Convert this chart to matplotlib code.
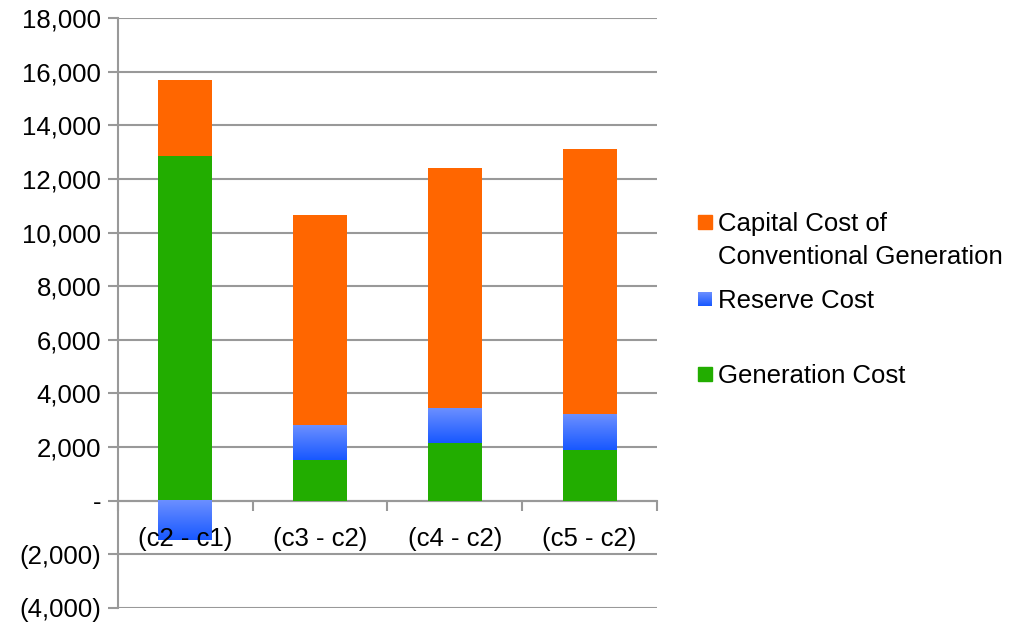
import numpy as np
import matplotlib
matplotlib.use('Agg')
import matplotlib.pyplot as plt
from matplotlib.patches import Rectangle
from matplotlib.ticker import FuncFormatter


categories = ['(c2 - c1)', '(c3 - c2)', '(c4 - c2)', '(c5 - c2)']
generation_cost = [12850, 1500, 2170, 1900]
reserve_cost = [-1480, 1270, 1280, 1340]
capital_cost = [2830, 7880, 8950, 9870]

series_labels = ['Capital Cost of\nConventional Generation', 'Reserve Cost', 'Generation Cost']
y_ticks = list(range(-4000, 18001, 2000))

ORANGE = '#ff6600'
GREEN = '#22ad00'
BLUE_TOP = np.array([0x6b, 0x8f, 0xff]) / 255
BLUE_BOT = np.array([0x18, 0x58, 0xff]) / 255
GRID = '#999999'
FS = 18.5

plt.rcParams['font.family'] = ['Liberation Sans', 'DejaVu Sans']


def fmt_y(v, pos):
    if v == 0:
        return '-'
    if v < 0:
        return '({:,.0f})'.format(-v)
    return '{:,.0f}'.format(v)


def gradient_fill(ax, bar):
    x0 = bar.get_x()
    x1 = x0 + bar.get_width()
    y0 = bar.get_y()
    y1 = y0 + bar.get_height()
    lo, hi = min(y0, y1), max(y0, y1)
    t = np.linspace(0, 1, 64)[:, None]
    img = BLUE_TOP[None, :] * (1 - t) + BLUE_BOT[None, :] * t
    img = img[:, None, :]
    ax.imshow(img, extent=(x0, x1, lo, hi), aspect='auto', origin='upper',
              zorder=bar.get_zorder() + 0.01, interpolation='bilinear')


fig = plt.figure(figsize=(10.13, 6.23), dpi=100)
ax = fig.add_axes([0.1165, 0.0241, 0.532, 0.947])

x = np.arange(len(categories))
width = 0.4
gen = np.array(generation_cost)
res = np.array(reserve_cost)
cap = np.array(capital_cost)

res_bottom = np.where(res >= 0, gen, 0)
cap_bottom = np.where(res >= 0, gen + res, gen)

ax.bar(x, gen, width, color=GREEN, zorder=1)
res_bars = ax.bar(x, res, width, bottom=res_bottom, color=BLUE_BOT, zorder=1)
ax.bar(x, cap, width, bottom=cap_bottom, color=ORANGE, zorder=1)
for b in res_bars:
    gradient_fill(ax, b)

for yt in y_ticks:
    ax.axhline(yt, color=GRID, lw=1.5, zorder=0.3)

ax.set_xlim(-0.5, len(categories) - 0.5)
ax.set_ylim(-4000, 18000)
ax.set_yticks(y_ticks)
ax.yaxis.set_major_formatter(FuncFormatter(fmt_y))

ax.set_xticks(np.arange(len(categories) + 1) - 0.5)
ax.set_xticklabels([])
ax.set_xticks(x, minor=True)
ax.set_xticklabels(categories, minor=True)
ax.tick_params(axis='x', which='minor', length=0, pad=19, labelsize=FS)
ax.tick_params(axis='x', which='major', length=7, width=1.5, color=GRID, direction='out')
ax.tick_params(axis='y', length=7, width=1.5, color=GRID, labelsize=FS, pad=5)

ax.spines['bottom'].set_position(('data', 0))
for s in ['top', 'right']:
    ax.spines[s].set_visible(False)
for s in ['left', 'bottom']:
    ax.spines[s].set_color(GRID)
    ax.spines[s].set_linewidth(1.5)
    ax.spines[s].set_zorder(0.4)

# legend drawn by hand to keep the uneven spacing
legend_y = [222, 299, 374]
legend_colors = [ORANGE, None, GREEN]
for ly, lab, col in zip(legend_y, series_labels, legend_colors):
    fy = 1 - ly / 623
    if col is None:
        t = np.linspace(0, 1, 32)[:, None]
        img = (BLUE_TOP[None, :] * (1 - t) + BLUE_BOT[None, :] * t)[:, None, :]
        iax = fig.add_axes([698 / 1013, fy - 7 / 623, 14 / 1013, 14 / 623])
        iax.imshow(img, aspect='auto')
        iax.axis('off')
    else:
        fig.patches.append(Rectangle((698 / 1013, fy - 7 / 623), 14 / 1013, 14 / 623,
                                     transform=fig.transFigure, color=col))
    fig.text(718 / 1013, fy + 10 / 623, lab, fontsize=FS, va='top', ha='left',
             linespacing=1.5)

fig.savefig('out.png', dpi=100)
